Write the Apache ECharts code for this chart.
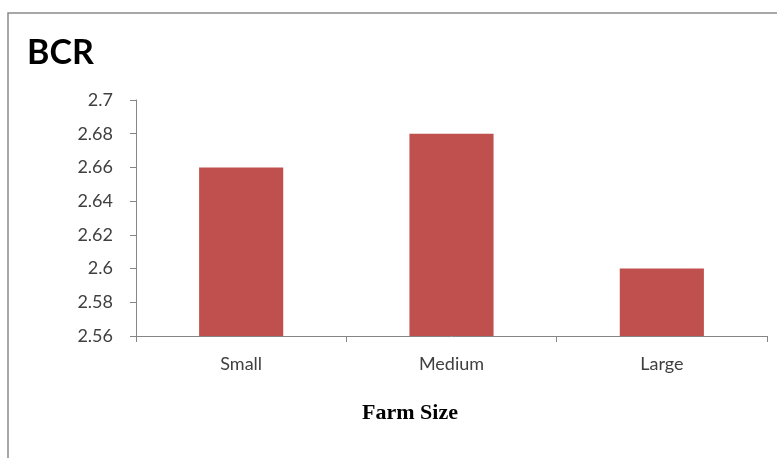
<!DOCTYPE html>
<html>
<head>
<meta charset="utf-8">
<script src="https://cdn.jsdelivr.net/npm/echarts@6/dist/echarts.min.js"></script>
<style>
  html, body { margin: 0; padding: 0; background: #fff; }
  #chart { width: 777px; height: 458px; }
</style>
</head>
<body>
<div id="chart"></div>
<script>
// Benefit-cost ratio by farm size
const categories = ['Small', 'Medium', 'Large'];
const bcrValues = [2.66, 2.68, 2.60];

const axisColor = '#868686';
const labelColor = '#404040';
const labelFont = 'Lato, "Open Sans", sans-serif';

const chart = echarts.init(document.getElementById('chart'));
chart.setOption({
  animation: false,
  backgroundColor: '#fff',
  grid: { left: 136, right: 10, top: 100, bottom: 122 },
  graphic: [
    {
      type: 'rect',
      shape: { x: 8, y: 13, width: 800, height: 500 },
      style: { fill: 'none', stroke: '#8a8a8a', lineWidth: 1.5 },
      silent: true
    },
    {
      type: 'text',
      left: 27, top: 36,
      style: { text: 'BCR', font: 'bold 34px Lato, "Open Sans", sans-serif', fill: '#000' }
    },
    {
      type: 'text',
      x: 410, y: 413,
      style: {
        text: 'Farm Size',
        font: 'bold 22px "Liberation Serif", "DejaVu Serif", serif',
        fill: '#000', align: 'center', verticalAlign: 'middle'
      }
    }
  ],
  xAxis: {
    type: 'category',
    data: categories,
    axisLine: { lineStyle: { color: axisColor, width: 1 } },
    axisTick: { show: true, length: 6, lineStyle: { color: axisColor }, alignWithLabel: false },
    axisLabel: { color: labelColor, fontFamily: labelFont, fontSize: 18, margin: 19 }
  },
  yAxis: {
    type: 'value',
    min: 2.56,
    max: 2.7,
    interval: 0.02,
    axisLine: { show: true, lineStyle: { color: axisColor, width: 1 } },
    axisTick: { show: true, length: 6, lineStyle: { color: axisColor } },
    splitLine: { show: false },
    axisLabel: {
      color: labelColor, fontFamily: labelFont, fontSize: 18, margin: 23,
      formatter: v => String(parseFloat(v.toFixed(2)))
    }
  },
  series: [{
    type: 'bar',
    data: bcrValues,
    barWidth: '40%',
    itemStyle: { color: '#C0504D' }
  }]
});
</script>
</body>
</html>
